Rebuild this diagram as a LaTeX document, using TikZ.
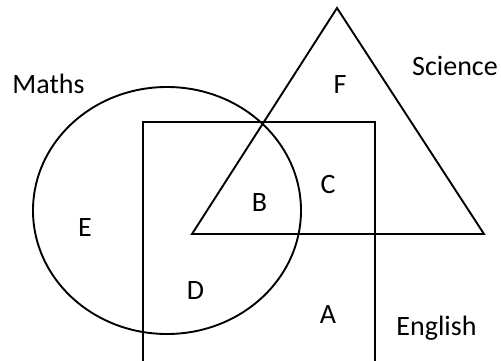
\documentclass[tikz,border=0pt]{standalone}
\usepackage{fontspec}
\setmainfont{Carlito}
\begin{document}
\begin{tikzpicture}[x=1pt,y=-1pt,
  shapeline/.style={draw=black,line width=1.9pt},
  lbl/.style={font=\fontsize{28}{30}\selectfont,anchor=base,inner sep=0pt}]
\useasboundingbox (0,0) rectangle (501,361);
% rectangle (English), bottom out of frame
\draw[shapeline] (143,361) -- (143,122) -- (375,122) -- (375,361);
% triangle (Science)
\draw[shapeline] (337,8) -- (484,234) -- (192,234) -- cycle;
% ellipse (Maths)
\draw[shapeline] (167,210.5) ellipse [x radius=134, y radius=123.5];
% labels
\node[lbl] (maths) at (48.5,93) {Maths};
\node[lbl] (science) at (455,76) {Science};
\node[lbl] (english) at (436.5,335) {English};
\node[lbl] (F) at (340,93) {F};
\node[lbl] (C) at (328,193) {C};
\node[lbl] (B) at (259.5,211) {B};
\node[lbl] (E) at (85,236) {E};
\node[lbl] (D) at (195.5,299) {D};
\node[lbl] (A) at (328,323) {A};
\end{tikzpicture}
\end{document}
